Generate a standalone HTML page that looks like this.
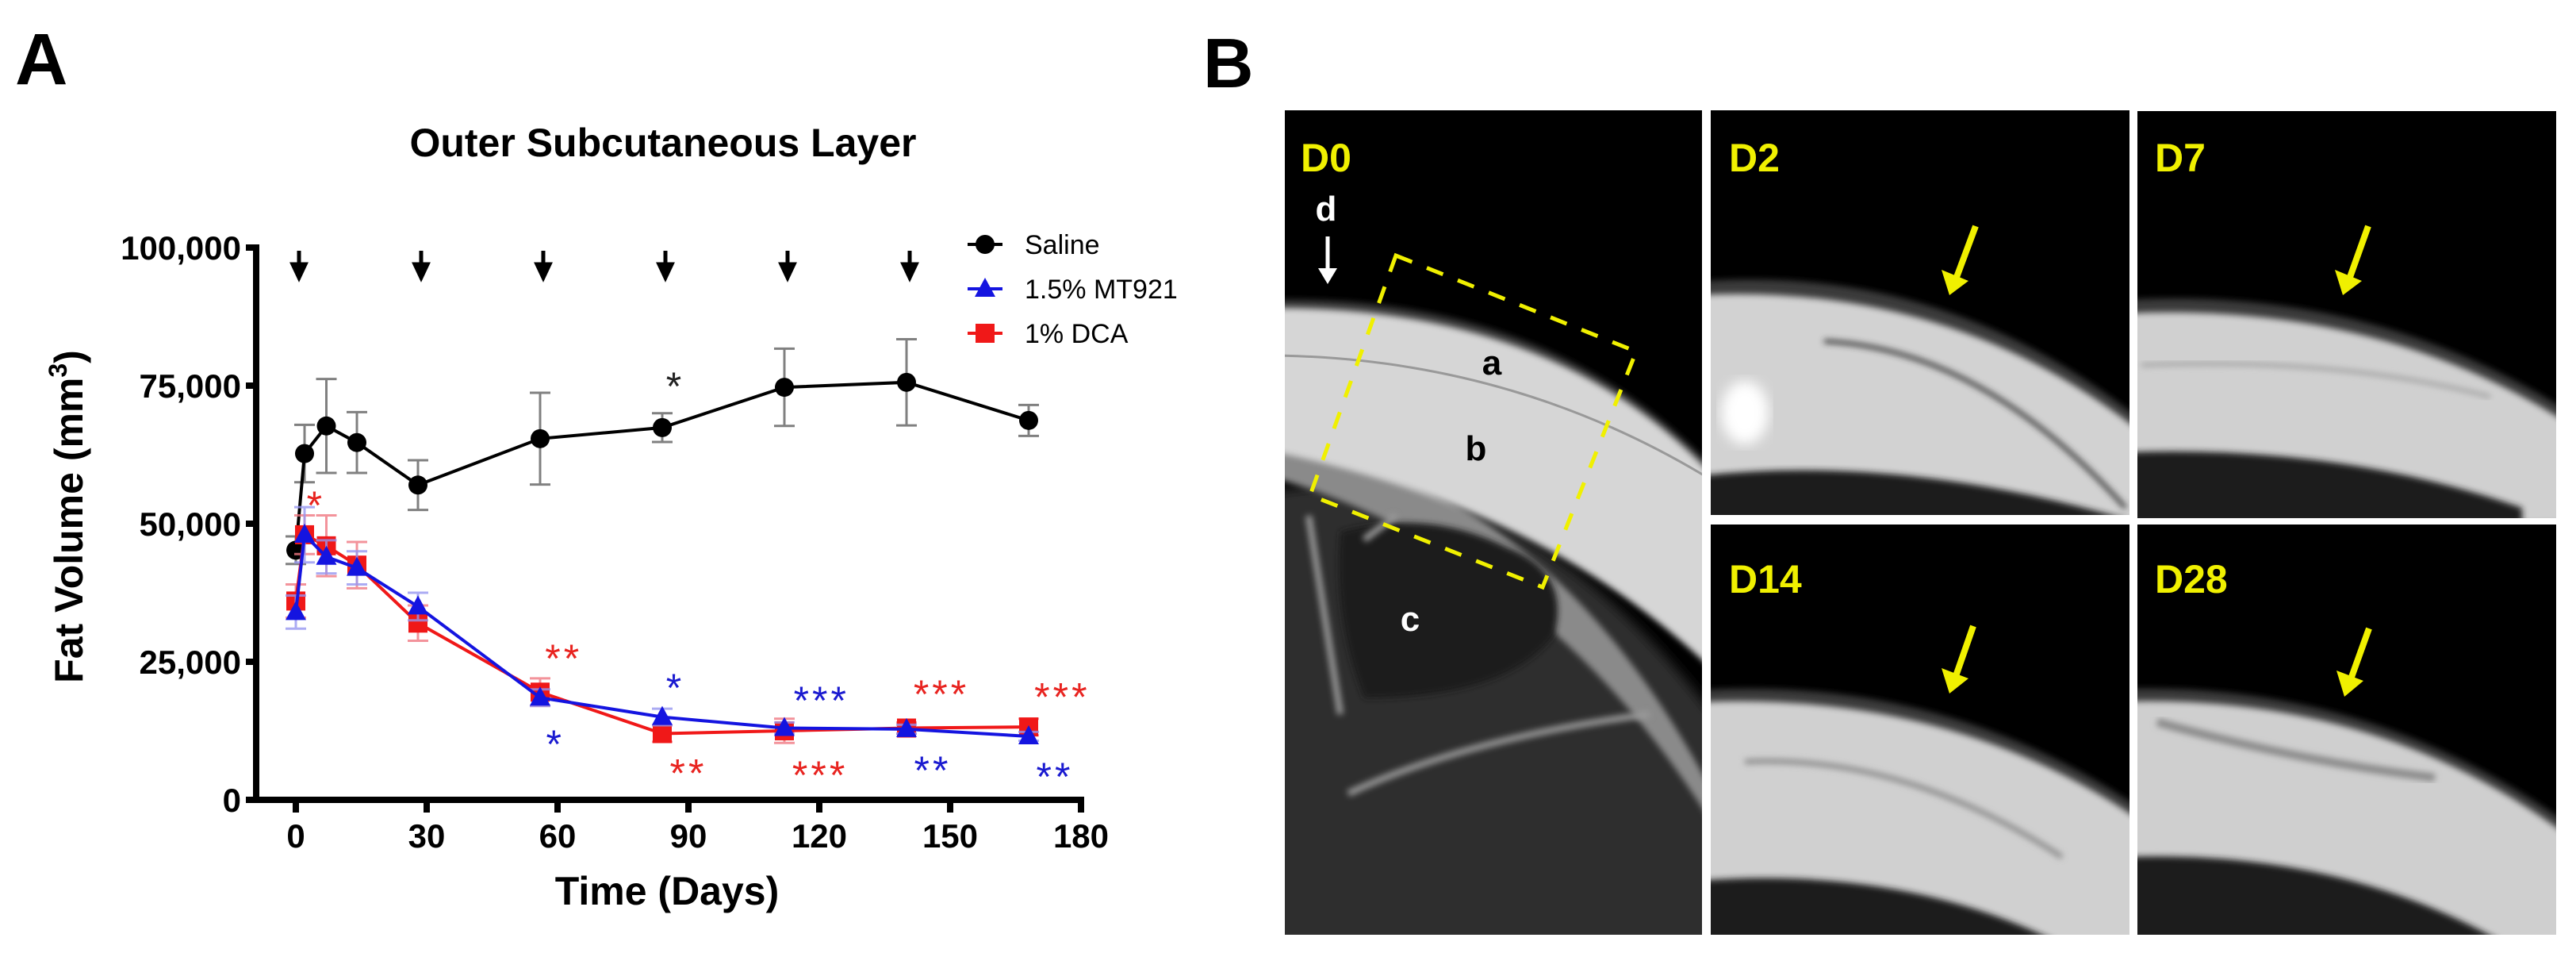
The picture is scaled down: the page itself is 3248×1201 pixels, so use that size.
<!DOCTYPE html>
<html><head><meta charset="utf-8">
<style>
html,body{margin:0;padding:0;background:#fff;}
body{width:3248px;height:1201px;overflow:hidden;font-family:"Liberation Sans",Arial,sans-serif;}
svg{display:block;}
</style></head>
<body>
<svg id="fig" width="3248" height="1201" viewBox="0 0 3248 1201" xmlns="http://www.w3.org/2000/svg">
  <defs>
    <filter id="blur4"><feGaussianBlur stdDeviation="4"/></filter>
    <filter id="blur8"><feGaussianBlur stdDeviation="8"/></filter>
    <clipPath id="c0"><rect x="1620" y="139" width="526" height="1039"/></clipPath>
    <clipPath id="c2"><rect x="2157" y="139" width="528" height="510"/></clipPath>
    <clipPath id="c7"><rect x="2695" y="140" width="528" height="513"/></clipPath>
    <clipPath id="c14"><rect x="2157" y="661" width="528" height="517"/></clipPath>
    <clipPath id="c28"><rect x="2695" y="661" width="528" height="517"/></clipPath>
  </defs>

  <text x="19" y="106" font-size="92" font-weight="bold" fill="#000">A</text>
  <text x="836" y="197" font-size="50" font-weight="bold" text-anchor="middle" fill="#000">Outer Subcutaneous Layer</text>
  <text x="841" y="1140" font-size="50" font-weight="bold" text-anchor="middle" fill="#000">Time (Days)</text>
  <text transform="translate(104,651) rotate(-90)" font-size="50" font-weight="bold" text-anchor="middle" fill="#000">Fat Volume (mm<tspan font-size="32" dy="-20">3</tspan><tspan dy="20">)</tspan></text>

  <g id="chart"></g>

  <text x="1517" y="110" font-size="88" font-weight="bold" fill="#000">B</text>

  <g clip-path="url(#c0)">
    <rect x="1620" y="139" width="526" height="1039" fill="#000"/>
    <path d="M1600 620 Q1900 560 2160 900 L2160 1200 L1600 1200 Z" fill="#2e2e2e" filter="url(#blur8)"/>
    <path d="M1600 560 Q1950 600 2160 1000 L2160 1040 Q1950 700 1600 600 Z" fill="#8a8a8a" filter="url(#blur4)"/>
    <path d="M1690 670 Q1800 640 1900 690 Q1980 720 1960 800 Q1900 880 1720 880 Q1680 780 1690 670 Z" fill="#1e1e1e" filter="url(#blur4)"/>
    <path d="M1650 650 L1690 900 M1720 680 L1760 650 M1700 1000 Q1850 930 2080 900" stroke="#9a9a9a" stroke-width="8" fill="none" filter="url(#blur4)"/>
    <path d="M1600 378 Q1950 370 2160 590 L2160 610 Q1950 395 1600 398 Z" fill="#3a3a3a" filter="url(#blur4)"/>
    <path d="M1600 388 Q1960 385 2160 600 L2160 845 Q1950 640 1600 568 Z" fill="#d6d6d6" filter="url(#blur4)"/>
    <path d="M1600 448 Q1900 450 2150 600" stroke="#999" stroke-width="3" fill="none"/>
    <text x="1640" y="216" font-size="50" font-weight="bold" fill="#f0f000">D0</text>
    <text x="1672" y="278" font-size="44" font-weight="bold" fill="#fff" text-anchor="middle">d</text>
    <path d="M1674 298 L1674 345" stroke="#fff" stroke-width="5"/>
    <path d="M1662 338 L1686 338 L1674 358 Z" fill="#fff"/>
    <text x="1881" y="472" font-size="44" font-weight="bold" fill="#000" text-anchor="middle">a</text>
    <text x="1861" y="580" font-size="44" font-weight="bold" fill="#000" text-anchor="middle">b</text>
    <text x="1778" y="795" font-size="44" font-weight="bold" fill="#fff" text-anchor="middle">c</text>
    <polygon points="1760,322 2063,443 1945,740 1652,624" fill="none" stroke="#f0f000" stroke-width="5" stroke-dasharray="22,20"/>
  </g>

  <g clip-path="url(#c2)">
    <rect x="2157" y="139" width="528" height="510" fill="#000"/>
    <path d="M2140 355 Q2450 330 2700 530 L2700 560 Q2450 370 2140 385 Z" fill="#3a3a3a" filter="url(#blur4)"/>
    <path d="M2140 372 Q2460 355 2700 545 L2700 660 L2140 660 Z" fill="#d2d2d2" filter="url(#blur4)"/>
    <path d="M2140 600 Q2400 570 2700 660 L2140 660 Z" fill="#1e1e1e" filter="url(#blur4)"/>
    <path d="M2300 430 Q2500 440 2680 640" stroke="#333" stroke-width="5" fill="none" filter="url(#blur4)"/>
    <ellipse cx="2200" cy="520" rx="30" ry="40" fill="#fff" filter="url(#blur8)"/>
    <text x="2180" y="216" font-size="50" font-weight="bold" fill="#f0f000">D2</text>
    <path d="M2491 285 L2466 352" stroke="#f0f000" stroke-width="8"/>
    <path d="M2448 340 L2482 354 L2458 372 Z" fill="#f0f000"/>
  </g>

  <g clip-path="url(#c7)">
    <rect x="2695" y="140" width="528" height="513" fill="#000"/>
    <path d="M2680 378 Q2990 360 3240 520 L3240 545 Q2990 390 2680 405 Z" fill="#3a3a3a" filter="url(#blur4)"/>
    <path d="M2680 395 Q3000 380 3240 535 L3240 660 L2680 660 Z" fill="#d0d0d0" filter="url(#blur4)"/>
    <path d="M2680 570 Q2950 560 3180 640 L3180 660 L2680 660 Z" fill="#1e1e1e" filter="url(#blur4)"/>
    <path d="M2700 460 Q2950 450 3140 500" stroke="#999" stroke-width="4" fill="none" filter="url(#blur4)"/>
    <text x="2717" y="216" font-size="50" font-weight="bold" fill="#f0f000">D7</text>
    <path d="M2986 285 L2962 352" stroke="#f0f000" stroke-width="8"/>
    <path d="M2944 340 L2978 354 L2954 372 Z" fill="#f0f000"/>
  </g>

  <g clip-path="url(#c14)">
    <rect x="2157" y="661" width="528" height="517" fill="#000"/>
    <path d="M2140 870 Q2450 850 2700 1020 L2700 1045 Q2450 880 2140 898 Z" fill="#3a3a3a" filter="url(#blur4)"/>
    <path d="M2140 885 Q2460 870 2700 1035 L2700 1190 L2140 1190 Z" fill="#d0d0d0" filter="url(#blur4)"/>
    <path d="M2140 1110 Q2400 1090 2600 1190 L2140 1190 Z" fill="#1e1e1e" filter="url(#blur4)"/>
    <path d="M2200 960 Q2400 950 2600 1080" stroke="#888" stroke-width="6" fill="none" filter="url(#blur4)"/>
    <text x="2180" y="747" font-size="50" font-weight="bold" fill="#f0f000">D14</text>
    <path d="M2488 789 L2466 852" stroke="#f0f000" stroke-width="8"/>
    <path d="M2448 842 L2482 855 L2458 874 Z" fill="#f0f000"/>
  </g>

  <g clip-path="url(#c28)">
    <rect x="2695" y="661" width="528" height="517" fill="#000"/>
    <path d="M2680 868 Q2990 860 3240 1040 L3240 1065 Q2990 890 2680 896 Z" fill="#3a3a3a" filter="url(#blur4)"/>
    <path d="M2680 884 Q3000 875 3240 1055 L3240 1190 L2680 1190 Z" fill="#cfcfcf" filter="url(#blur4)"/>
    <path d="M2680 1080 Q2950 1070 3160 1190 L2680 1190 Z" fill="#1e1e1e" filter="url(#blur4)"/>
    <path d="M2720 910 Q2900 960 3070 980" stroke="#888" stroke-width="10" fill="none" filter="url(#blur4)"/>
    <text x="2717" y="747" font-size="50" font-weight="bold" fill="#f0f000">D28</text>
    <path d="M2987 792 L2964 856" stroke="#f0f000" stroke-width="8"/>
    <path d="M2946 845 L2980 858 L2956 878 Z" fill="#f0f000"/>
  </g>
</svg>

<script>
const days = [0, 2, 7, 14, 28, 56, 84, 112, 140, 168];
const salineMean = [45200, 62700, 67700, 64700, 57000, 65400, 67400, 74700, 75600, 68700];
const salineErr = [2500, 5200, 8500, 5500, 4500, 8300, 2600, 7000, 7800, 2800];
const mt921Mean = [34000, 48000, 44000, 42000, 35000, 18500, 15000, 13000, 12800, 11500];
const mt921Err = [3000, 5000, 3000, 3000, 2500, 1500, 1500, 1000, 800, 800];
const dcaMean = [36000, 48000, 46000, 42500, 32000, 19500, 12000, 12500, 13000, 13200];
const dcaErr = [3000, 3500, 5500, 4200, 3200, 2500, 1500, 2200, 1000, 1500];
const xTicks = [0, 30, 60, 90, 120, 150, 180];
const yTicks = [0, 25000, 50000, 75000, 100000];
const yTickLabels = ["0", "25,000", "50,000", "75,000", "100,000"];
const doseDays = [0, 28, 56, 84, 112, 140];
const starDays = [87, 4.6, 61.4, 87, 120.5, 148, 175.7, 59.5, 90, 120.2, 146, 174];
const starVals = [75600, 54000, 26300, 21000, 18700, 19800, 19300, 10800, 5500, 5200, 6000, 4900];
const starText = ["*", "*", "**", "*", "***", "***", "***", "*", "**", "***", "**", "**"];
const starColor = ["#222", "#e8231f", "#e8231f", "#1a1ad0", "#1a1ad0", "#e8231f", "#e8231f", "#1a1ad0", "#e8231f", "#e8231f", "#1a1ad0", "#1a1ad0"];

const NS = "http://www.w3.org/2000/svg";
const X0 = 373, PXD = 5.5, Y0 = 1008, PXV = 0.00696;
function xS(d) { return X0 + d * PXD; }
function yS(v) { return Y0 - v * PXV; }
const g = document.getElementById("chart");
function mk(tag, attrs) {
  const e = document.createElementNS(NS, tag);
  for (const k in attrs) e.setAttribute(k, attrs[k]);
  g.appendChild(e);
  return e;
}

let e = mk("line", {x1: 323, y1: yS(100000) - 4, x2: 323, y2: Y0 + 4, stroke: "#000", "stroke-width": 8});


e = mk("line", {x1: 319, y1: Y0, x2: xS(180) + 4, y2: Y0, stroke: "#000", "stroke-width": 8});



yTicks.forEach((v, i) => {
  const t = mk("line", {x1: 310, y1: yS(v), x2: 323, y2: yS(v), stroke: "#000", "stroke-width": 8});
  
  
  const l = mk("text", {x: 304, y: yS(v) + 15, "font-size": 42, "font-weight": "bold", "text-anchor": "end"});
  l.textContent = yTickLabels[i];
  
  
});
xTicks.forEach(d => {
  const t = mk("line", {x1: xS(d), y1: Y0, x2: xS(d), y2: Y0 + 16, stroke: "#000", "stroke-width": 8});
  
  
  const l = mk("text", {x: xS(d), y: Y0 + 60, "font-size": 42, "font-weight": "bold", "text-anchor": "middle"});
  l.textContent = String(d);
  
  
});

doseDays.forEach(d => {
  const x = xS(d) + 4;
  const a = mk("path", {d: `M${x} 316 L${x} 336 M${x-8} 333 L${x+8} 333 L${x} 350 Z`, stroke: "#000", "stroke-width": 5, fill: "#000"});
  
  
});

function series(mean, err, color, errColor, marker, name) {
  days.forEach((d, i) => {
    const x = xS(d), yt = yS(mean[i] + err[i]), yb = yS(mean[i] - err[i]);
    const eb = mk("path", {d: `M${x} ${yt} L${x} ${yb} M${x-13} ${yt} L${x+13} ${yt} M${x-13} ${yb} L${x+13} ${yb}`, stroke: errColor, "stroke-width": 3, fill: "none"});
    
    
  });
  const pts = days.map((d, i) => xS(d) + "," + yS(mean[i])).join(" ");
  const ln = mk("polyline", {points: pts, fill: "none", stroke: color, "stroke-width": 4});
  
  
  days.forEach((d, i) => {
    const x = xS(d), y = yS(mean[i]);
    let m;
    if (marker === "circle") m = mk("circle", {cx: x, cy: y, r: 12, fill: color});
    else if (marker === "square") m = mk("rect", {x: x - 12, y: y - 12, width: 24, height: 24, fill: color});
    else m = mk("polygon", {points: `${x},${y-14} ${x+13},${y+10} ${x-13},${y+10}`, fill: color});
    
    
  });
}
series(salineMean, salineErr, "#000", "#808080", "circle", "saline");
series(dcaMean, dcaErr, "#f01818", "rgba(240,120,130,0.8)", "square", "dca");
series(mt921Mean, mt921Err, "#1414e0", "rgba(150,150,240,0.8)", "triangle", "mt921");

starDays.forEach((d, i) => {
  const s = mk("text", {x: xS(d), y: yS(starVals[i]) + 22, "font-size": 50, "text-anchor": "middle", fill: starColor[i], "letter-spacing": 4});
  s.textContent = starText[i];
  
  
});

const legNames = ["Saline", "1.5% MT921", "1% DCA"];
const legColors = ["#000", "#1414e0", "#f01818"];
const legMarkers = ["circle", "triangle", "square"];
legNames.forEach((n, i) => {
  const y = 308 + i * 56, x = 1242;
  const l = mk("line", {x1: x - 22, y1: y, x2: x + 22, y2: y, stroke: legColors[i], "stroke-width": 4});
  
  
  let m;
  if (legMarkers[i] === "circle") m = mk("circle", {cx: x, cy: y, r: 12, fill: legColors[i]});
  else if (legMarkers[i] === "square") m = mk("rect", {x: x - 12, y: y - 12, width: 24, height: 24, fill: legColors[i]});
  else m = mk("polygon", {points: `${x},${y-14} ${x+13},${y+10} ${x-13},${y+10}`, fill: legColors[i]});
  
  
  const t = mk("text", {x: 1292, y: y + 12, "font-size": 34, fill: "#000"});
  t.textContent = n;
  
  
});
</script>
</body></html>
